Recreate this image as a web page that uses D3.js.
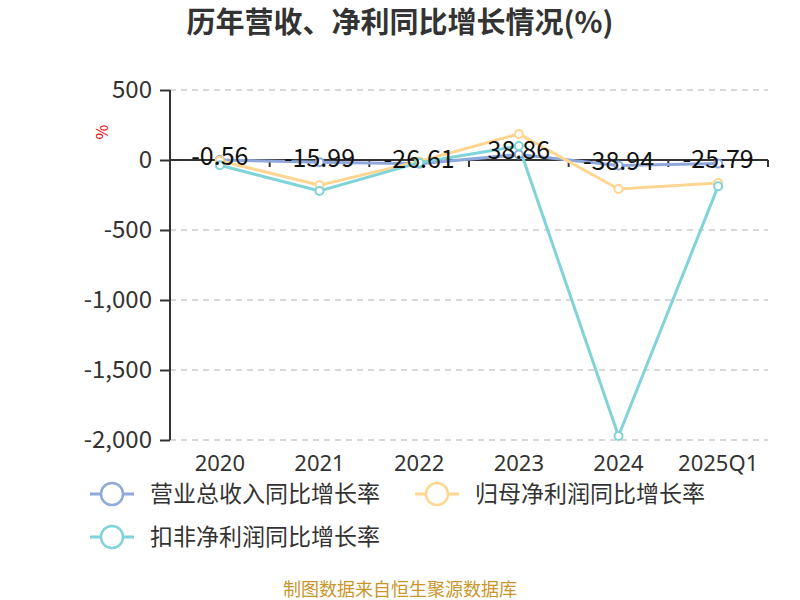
<!DOCTYPE html>
<html><head><meta charset="utf-8">
<script src="https://cdn.jsdelivr.net/npm/d3@7"></script>
<style>body{margin:0;background:#fff;} svg{display:block;font-family:"Noto Sans CJK SC","Noto Sans",sans-serif;}</style>
</head><body>
<svg id="c" width="800" height="600"></svg>
<script>
const categories = ["2020","2021","2022","2023","2024","2025Q1"];
const revenueGrowth = [-0.56,-15.99,-26.61,38.86,-38.94,-25.79];
const netProfitGrowth = [-5,-180,-10,186,-207,-164];
const deductedProfitGrowth = [-38,-221,-19,100,-1971,-187];
const yTicks = [500,0,-500,-1000,-1500,-2000];
const seriesNames = ["营业总收入同比增长率","归母净利润同比增长率","扣非净利润同比增长率"];
const colors = ["#8EA8DB","#FFD691","#80D4D8"];

(function(){
const svg = d3.select("#c");
const pL=170,pR=768,pT=90,pB=440;
const x = d3.scaleBand().domain(categories).range([pL,pR]);
const y = d3.scaleLinear().domain([-2000,500]).range([pB,pT]);
const fmt = d => d3.format(",")(d).replace("\u2212","-");

svg.append("text").attr("x",400).attr("y",33).attr("text-anchor","middle")
  .attr("font-size",29).attr("font-weight","bold").attr("fill","#333").text("历年营收、净利同比增长情况(%)");

svg.append("g").selectAll("line").data(yTicks.filter(d=>d!==0)).join("line")
  .attr("x1",pL).attr("x2",pR).attr("y1",d=>y(d)).attr("y2",d=>y(d))
  .attr("stroke","#ccc").attr("stroke-width",1.5).attr("stroke-dasharray","6,5");

const ya = svg.append("g").attr("transform",`translate(${pL},0)`)
  .call(d3.axisLeft(y).tickValues(yTicks).tickSize(10).tickPadding(8).tickFormat(fmt));
ya.select(".domain").attr("stroke","#333").attr("stroke-width",2).attr("d",`M0,${pT}V${pB}`);
ya.selectAll(".tick line").attr("stroke","#333").attr("stroke-width",2);
ya.selectAll(".tick text").attr("font-size",24).attr("fill","#333").attr("font-family","'Noto Sans CJK SC',sans-serif");

const xa = svg.append("g").attr("transform",`translate(0,${y(0)})`)
  .call(d3.axisBottom(x).tickSize(0).tickFormat(""));
xa.select(".domain").attr("stroke","#333").attr("stroke-width",2).attr("d",`M${pL},0H${pR}`);
const bounds = categories.map(c=>x(c)+x.bandwidth());
xa.append("g").selectAll("line").data(bounds).join("line")
  .attr("x1",d=>d).attr("x2",d=>d).attr("y1",0).attr("y2",7).attr("stroke","#333").attr("stroke-width",2);

svg.append("g").selectAll("text").data(categories).join("text")
  .attr("x",d=>x(d)+x.bandwidth()/2).attr("y",471).attr("text-anchor","middle")
  .attr("font-family","'Noto Sans',sans-serif")
  .attr("font-size",22).attr("fill","#333").text(d=>d);

svg.append("text").attr("transform","translate(108,132) rotate(-90)").attr("text-anchor","middle")
  .attr("font-size",16).attr("fill","#e00").text("%");

const allSeries=[revenueGrowth,netProfitGrowth,deductedProfitGrowth];
const line = d3.line().x((d,i)=>x(categories[i])+x.bandwidth()/2).y(d=>y(d));
allSeries.forEach((s,k)=>{
  svg.append("path").datum(s).attr("d",line).attr("fill","none").attr("stroke",colors[k]).attr("stroke-width",3);
});
allSeries.forEach((s,k)=>{
  svg.append("g").selectAll("circle").data(s).join("circle")
    .attr("cx",(d,i)=>x(categories[i])+x.bandwidth()/2).attr("cy",d=>y(d)).attr("r",4)
    .attr("fill","#fff").attr("stroke",colors[k]).attr("stroke-width",2);
});

svg.append("g").selectAll("text").data(revenueGrowth).join("text")
  .attr("x",(d,i)=>x(categories[i])+x.bandwidth()/2).attr("y",d=>y(d)-4).attr("dy","0.35em")
  .attr("text-anchor","middle").attr("font-size",25).attr("fill","#111").text(d=>d.toFixed(2));

const legendPos=[[90,494],[415,494],[90,537]];
seriesNames.forEach((n,k)=>{
  const [lx,ly]=legendPos[k];
  const g=svg.append("g");
  g.append("line").attr("x1",lx).attr("x2",lx+44).attr("y1",ly).attr("y2",ly).attr("stroke",colors[k]).attr("stroke-width",3);
  g.append("circle").attr("cx",lx+22).attr("cy",ly).attr("r",11).attr("fill","#fff").attr("stroke",colors[k]).attr("stroke-width",2.5);
  g.append("text").attr("x",lx+60).attr("y",ly).attr("dy","0.35em").attr("font-size",23).attr("fill","#333").text(n);
});

svg.append("text").attr("x",400).attr("y",596).attr("text-anchor","middle").attr("font-size",18)
  .attr("fill","#C9962B").text("制图数据来自恒生聚源数据库");
})();
</script>
</body></html>
